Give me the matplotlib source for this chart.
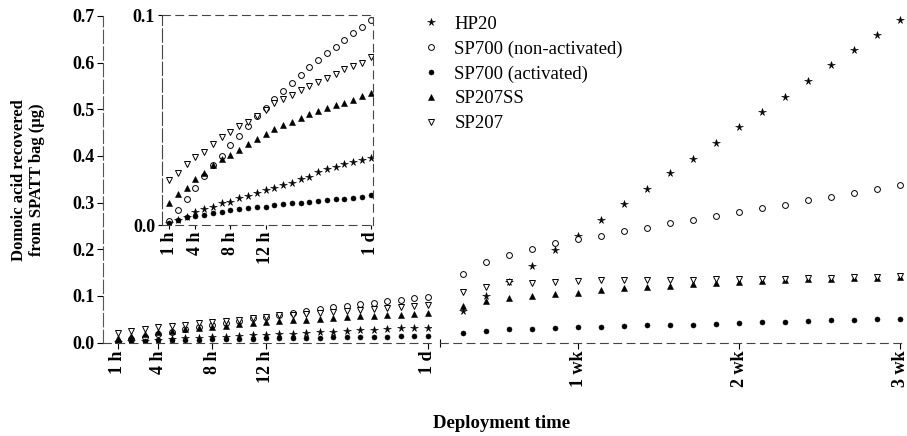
import matplotlib
matplotlib.use("Agg")
import matplotlib.pyplot as plt

plt.rcParams['font.family'] = ['Liberation Serif', 'DejaVu Serif']

# hourly sampling (first day) and daily sampling (day 2 - day 21)
hours = list(range(1, 25))
days = list(range(2, 22))

series_names = ["HP20", "SP700 (non-activated)", "SP700 (activated)", "SP207SS", "SP207"]

hp20_h = [0.001, 0.0025, 0.004, 0.0063, 0.0075, 0.0087, 0.0103, 0.0111, 0.0127, 0.014,
          0.0154, 0.0167, 0.0178, 0.019, 0.0198, 0.0219, 0.023, 0.0254, 0.0267, 0.0278,
          0.0289, 0.0302, 0.031, 0.032]
sp700n_h = [0.002, 0.007, 0.0122, 0.0175, 0.0235, 0.0286, 0.033, 0.038, 0.0425, 0.047,
            0.052, 0.0556, 0.060, 0.0638, 0.0675, 0.0714, 0.0751, 0.0786, 0.0817, 0.0849,
            0.0881, 0.0913, 0.0944, 0.0976]
sp700a_h = [0.0008, 0.0024, 0.0037, 0.0043, 0.0048, 0.0056, 0.0062, 0.0071, 0.0075, 0.0083,
            0.0084, 0.0087, 0.0095, 0.010, 0.0103, 0.0106, 0.0111, 0.0114, 0.0119, 0.0124,
            0.0125, 0.013, 0.0135, 0.0141]
sp207ss_h = [0.0106, 0.0146, 0.0178, 0.0217, 0.0246, 0.0286, 0.0313, 0.0333, 0.0357, 0.0386,
             0.0408, 0.0432, 0.0456, 0.0476, 0.0492, 0.0508, 0.0527, 0.0544, 0.0559, 0.0571,
             0.0583, 0.0595, 0.0614, 0.0627]
sp207_h = [0.0214, 0.0249, 0.029, 0.0325, 0.0349, 0.0384, 0.0417, 0.0444, 0.0471, 0.0492,
           0.0519, 0.0548, 0.0579, 0.0598, 0.0619, 0.0643, 0.0662, 0.0679, 0.0702, 0.0717,
           0.0741, 0.0757, 0.0773, 0.080]

hp20_d = [0.068, 0.100, 0.130, 0.163, 0.198, 0.228, 0.263, 0.296, 0.329, 0.363,
          0.393, 0.427, 0.461, 0.494, 0.527, 0.561, 0.594, 0.627, 0.659, 0.691]
sp700n_d = [0.147, 0.173, 0.188, 0.200, 0.213, 0.222, 0.229, 0.240, 0.246, 0.257,
            0.263, 0.271, 0.280, 0.288, 0.295, 0.305, 0.313, 0.321, 0.329, 0.338]
sp700a_d = [0.021, 0.025, 0.028, 0.030, 0.032, 0.034, 0.034, 0.035, 0.037, 0.0375,
            0.038, 0.040, 0.0425, 0.043, 0.045, 0.047, 0.0475, 0.048, 0.050, 0.051]
sp207ss_d = [0.079, 0.089, 0.095, 0.100, 0.103, 0.107, 0.113, 0.116, 0.118, 0.121,
             0.125, 0.127, 0.129, 0.132, 0.134, 0.136, 0.137, 0.138, 0.139, 0.140]
sp207_d = [0.109, 0.120, 0.130, 0.128, 0.129, 0.131, 0.134, 0.134, 0.134, 0.135,
           0.135, 0.136, 0.136, 0.137, 0.137, 0.138, 0.139, 0.140, 0.141, 0.142]

hour_ticks = [1, 4, 8, 12, 24]
hour_labels = ["1 h", "4 h", "8 h", "12 h", "1 d"]
day_ticks = [7, 14, 21]
day_labels = ["1 wk", "2 wk", "3 wk"]
y_ticks = [0.0, 0.1, 0.2, 0.3, 0.4, 0.5, 0.6, 0.7]

hourly = [hp20_h, sp700n_h, sp700a_h, sp207ss_h, sp207_h]
daily = [hp20_d, sp700n_d, sp700a_d, sp207ss_d, sp207_d]

# marker styles for each series
styles = [dict(marker="*", ms=5.5, mfc="black", mec="black", mew=0.4),
          dict(marker="o", ms=4.2, mfc="white", mec="black", mew=0.7),
          dict(marker="o", ms=3.6, mfc="black", mec="black", mew=0.4),
          dict(marker="^", ms=4.3, mfc="black", mec="black", mew=0.4),
          dict(marker="v", ms=4.6, mfc="white", mec="black", mew=0.7)]

W, H = 907, 436
fig = plt.figure(figsize=(W / 100, H / 100), dpi=100)

def px_axes(x0, y0, x1, y1):
    return fig.add_axes([x0 / W, 1 - y1 / H, (x1 - x0) / W, (y1 - y0) / H])

dash = (0, (7, 5))
tickfont = dict(fontsize=13, fontweight="bold")

# left part: first day
ax1 = px_axes(103, 16, 431, 342.5)
# right part: day 1 to 3 weeks
ax2 = px_axes(440, 16, 906, 342.5)
# inset: first day zoomed
ax3 = px_axes(162, 15, 373, 225)

for i in range(5):
    ax1.plot(hours, hourly[i], ls="none", **styles[i])
    ax2.plot(days, daily[i], ls="none", label=series_names[i], **styles[i])
    ax3.plot(hours, hourly[i], ls="none", **styles[i])

for ax in (ax1, ax2):
    ax.set_ylim(0, 0.7)
    ax.spines["top"].set_visible(False)
    ax.spines["right"].set_visible(False)
    ax.spines["bottom"].set_linestyle(dash)
    ax.spines["bottom"].set_linewidth(0.8)
    ax.spines["bottom"].set_color("#444444")
    ax.patch.set_alpha(0)

ax1.set_xlim(-0.1, 24.25)
ax1.set_xticks(hour_ticks)
ax1.set_xticklabels(hour_labels, rotation=90, **tickfont)
ax1.set_yticks(y_ticks)
ax1.set_yticklabels(["%.1f" % v for v in y_ticks], **tickfont)
ax1.spines["left"].set_linestyle((0, (12, 3)))
ax1.spines["left"].set_linewidth(0.8)
ax1.spines["left"].set_color("#555555")
ax1.tick_params(length=4, width=0.8, pad=2)

ax2.set_xlim(1, 21.26)
ax2.set_xticks(day_ticks)
ax2.set_xticklabels(day_labels, rotation=90, **tickfont)
ax2.set_xticks([1], minor=True)
ax2.spines["left"].set_visible(False)
ax2.set_yticks([])
ax2.tick_params(axis="x", length=4, width=0.8, pad=2)
ax2.tick_params(axis="x", which="minor", length=6, width=0.8, direction="inout")

ax3.set_xlim(0.2, 24.25)
ax3.set_ylim(0, 0.1)
ax3.set_xticks(hour_ticks)
ax3.set_xticklabels(hour_labels, rotation=90, **tickfont)
ax3.set_yticks([0.0, 0.1])
ax3.set_yticklabels(["0.0", "0.1"], **tickfont)
ax3.tick_params(length=3, width=0.8, pad=2)
for side in ("top", "right", "bottom"):
    ax3.spines[side].set_linestyle(dash)
for side in ax3.spines:
    ax3.spines[side].set_linewidth(0.8)
    ax3.spines[side].set_color("#444444")
ax3.spines["left"].set_linestyle((0, (12, 3)))

fig.legend(*ax2.get_legend_handles_labels(), loc="upper left",
           bbox_to_anchor=(414 / W, 1 - 8 / H), frameon=False,
           fontsize=13.5, handlelength=1.0, handletextpad=0.75,
           labelspacing=0.41, borderaxespad=0)

fig.text(28 / W, 1 - 180 / H, "Domoic acid recovered\nfrom SPATT bag (µg)",
         rotation=90, ha="center", va="center", fontsize=12, fontweight="bold",
         linespacing=1.15)
fig.text(502 / W, 1 - 423 / H, "Deployment time", ha="center", va="center",
         fontsize=13.5, fontweight="bold")

fig.savefig("out.png", dpi=100)
